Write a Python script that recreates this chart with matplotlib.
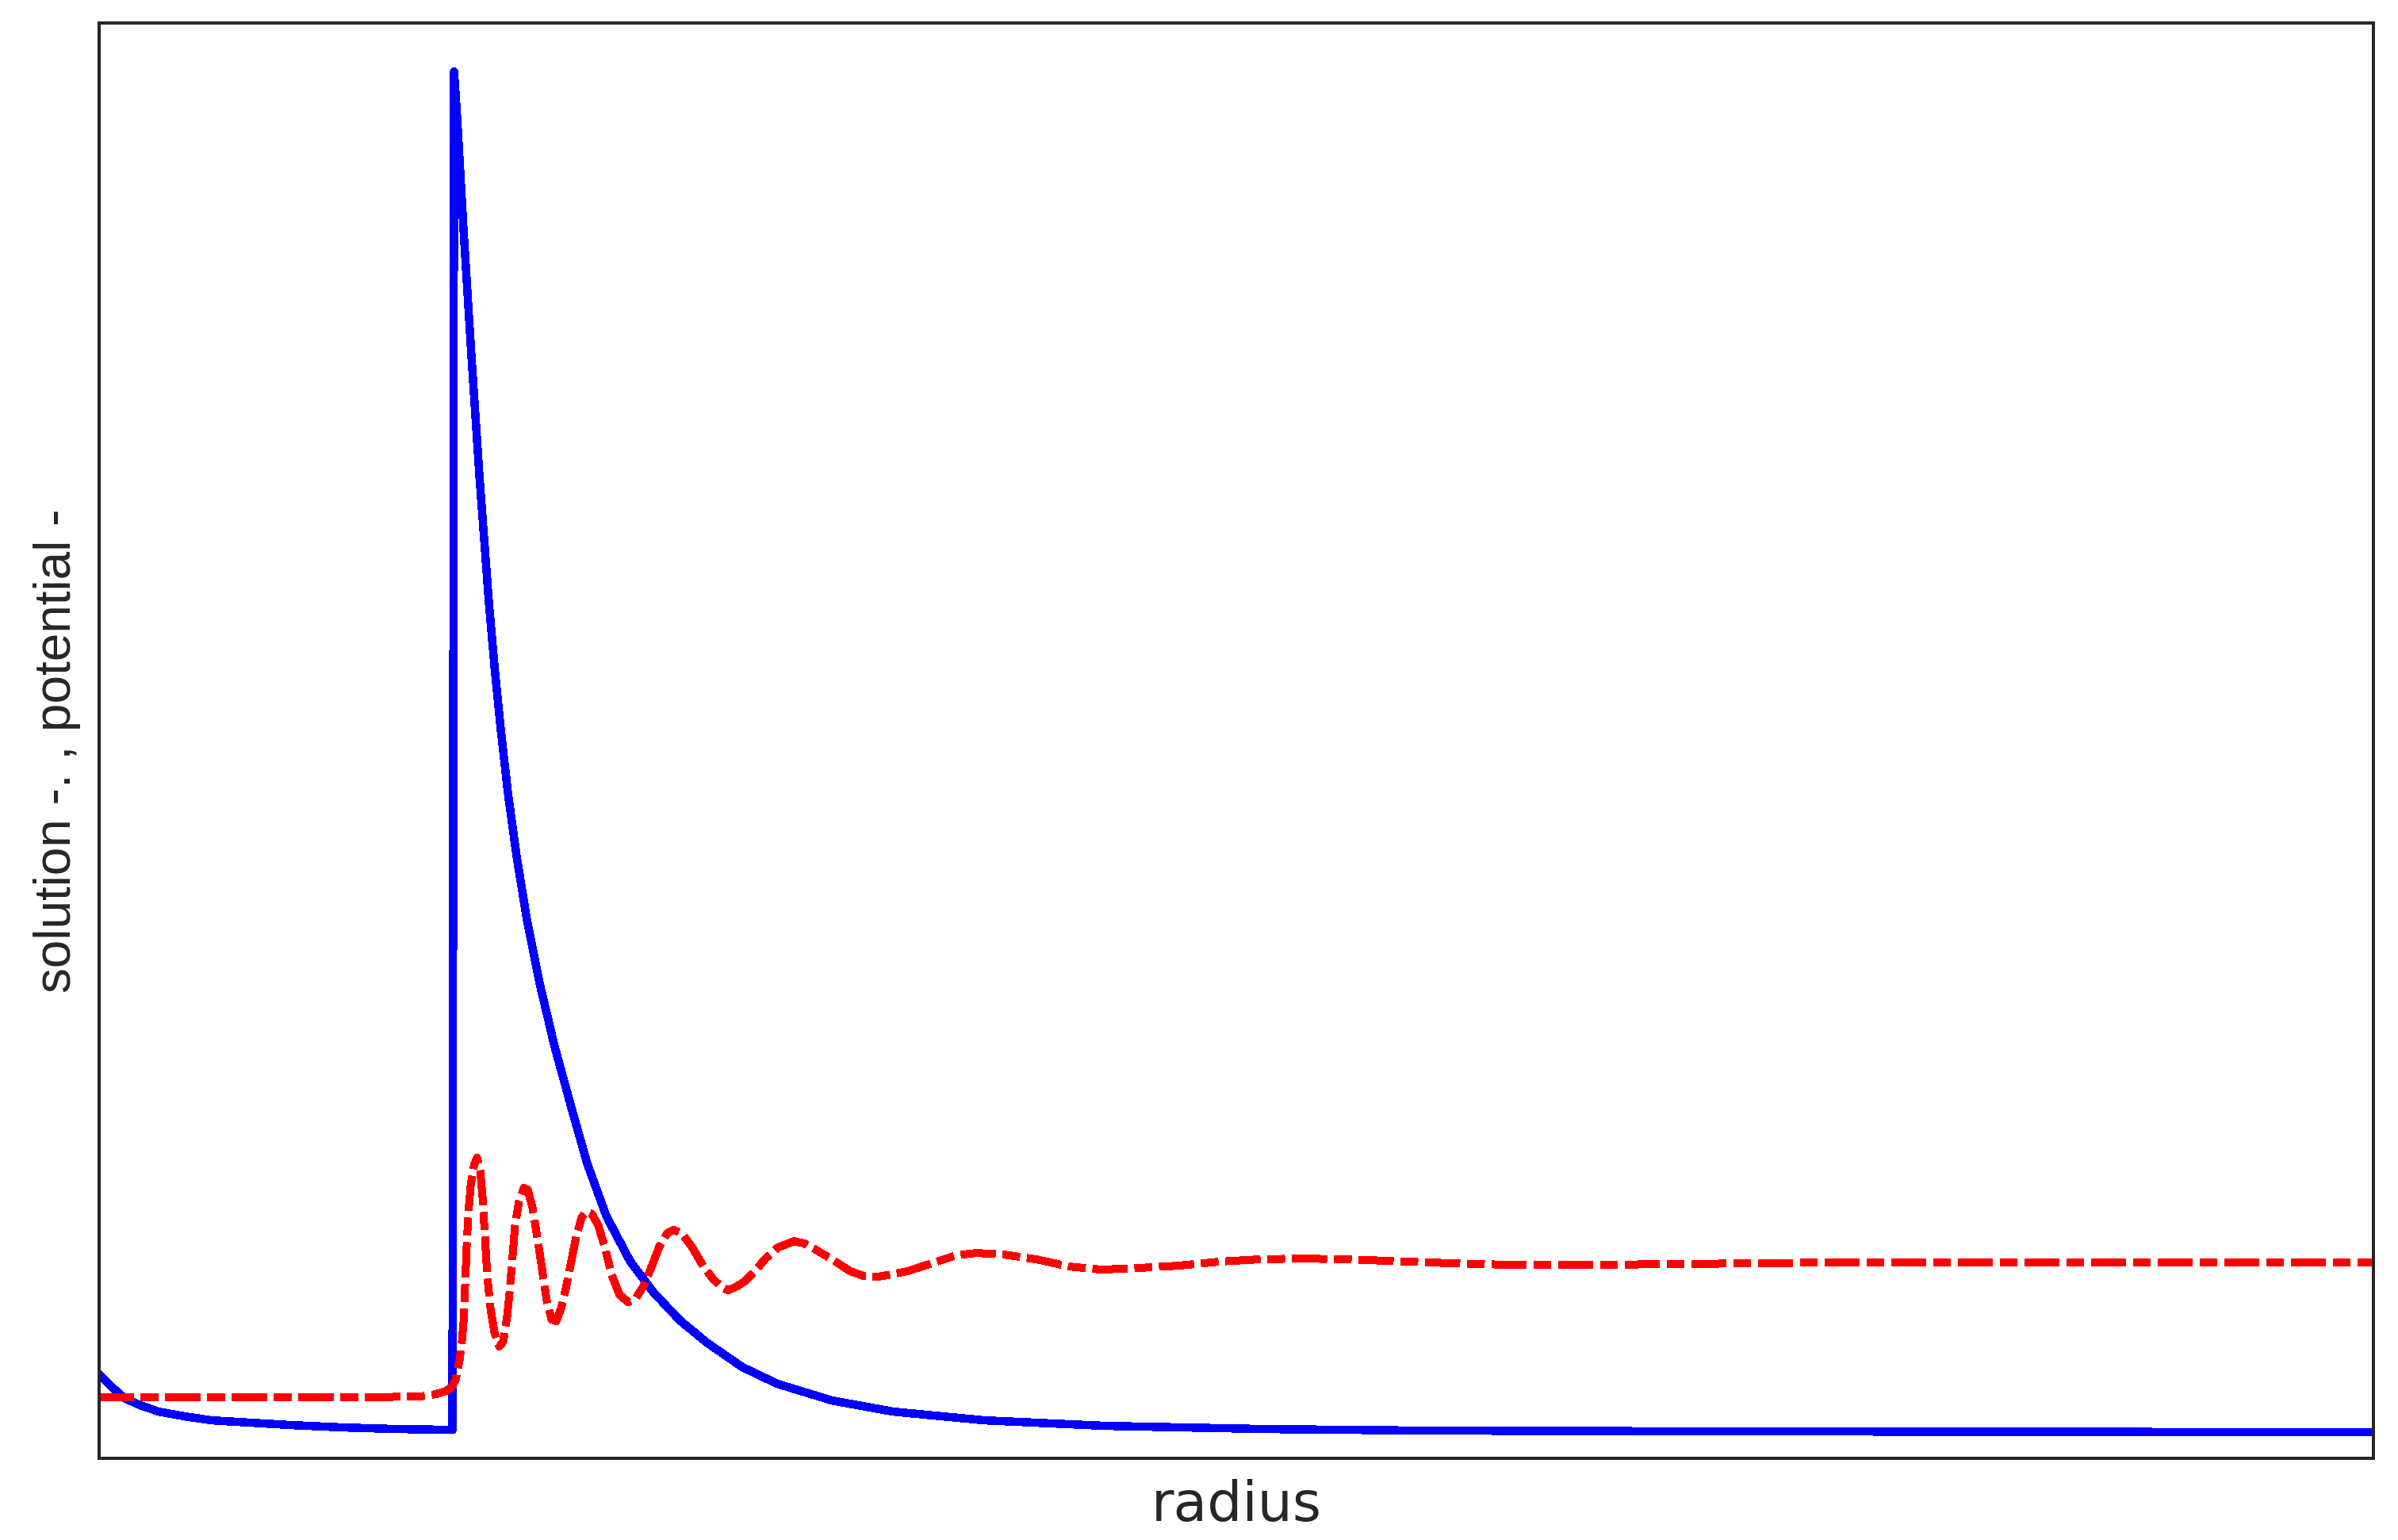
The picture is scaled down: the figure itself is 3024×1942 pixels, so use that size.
import matplotlib
matplotlib.use("Agg")
import matplotlib.pyplot as plt

# potential (solid blue)
r_pot = [0.00, 0.15, 0.32, 0.52, 0.75, 1.08, 1.42, 1.92, 2.42, 3.08, 3.75, 4.46,
         4.48, 4.52, 4.56, 4.60, 4.65, 4.70, 4.75, 4.80, 4.86, 4.92, 4.99, 5.07,
         5.16, 5.27, 5.40, 5.56, 5.75, 5.97, 6.16, 6.40, 6.70, 7.00, 7.33, 7.67,
         8.12, 8.56, 9.25, 10.02, 11.17, 12.70, 14.69, 16.75, 20.75, 28.70]
pot = [0.73, 0.58, 0.43, 0.34, 0.26, 0.20, 0.15, 0.12, 0.09, 0.06, 0.04, 0.03,
       17.16, 16.56, 15.86, 15.16, 14.36, 13.56, 12.81, 12.06, 11.26, 10.46, 9.66, 8.86,
       8.06, 7.26, 6.46, 5.66, 4.86, 4.06, 3.39, 2.73, 2.16, 1.76, 1.41, 1.13,
       0.82, 0.61, 0.40, 0.26, 0.15, 0.08, 0.04, 0.02, 0.01, 0.00]

# solution (red dash-dot)
r_sol = [0.00, 1.75, 3.25, 4.05, 4.25, 4.38, 4.45, 4.50, 4.55, 4.58, 4.60, 4.62,
         4.64, 4.66, 4.69, 4.73, 4.77, 4.81, 4.84, 4.87, 4.90, 4.94, 4.99, 5.05,
         5.10, 5.15, 5.18, 5.21, 5.25, 5.30, 5.36, 5.41, 5.47, 5.53, 5.59, 5.65,
         5.71, 5.77, 5.83, 5.89, 5.95, 6.02, 6.09, 6.15, 6.22, 6.30, 6.38, 6.47,
         6.57, 6.68, 6.78, 6.87, 6.97, 7.07, 7.17, 7.25, 7.35, 7.48, 7.62, 7.75,
         7.87, 7.94, 8.05, 8.16, 8.30, 8.41, 8.57, 8.77, 8.90, 9.03, 9.28, 9.48,
         9.65, 9.82, 10.00, 10.20, 10.51, 10.81, 11.07, 11.42, 11.83, 12.24, 12.65, 13.11,
         13.62, 14.13, 14.64, 15.15, 15.77, 16.79, 17.81, 18.83, 19.85, 20.87, 21.89, 24.75,
         28.70]
sol = [0.44, 0.44, 0.44, 0.45, 0.48, 0.52, 0.57, 0.66, 0.91, 1.16, 1.39, 1.86,
       2.36, 2.76, 3.11, 3.36, 3.46, 3.31, 2.96, 2.46, 1.96, 1.56, 1.26, 1.08,
       1.14, 1.46, 1.76, 2.11, 2.61, 2.91, 3.08, 3.06, 2.83, 2.46, 2.06, 1.66,
       1.42, 1.40, 1.56, 1.81, 2.11, 2.46, 2.71, 2.78, 2.75, 2.61, 2.34, 1.98,
       1.73, 1.64, 1.70, 1.84, 2.08, 2.34, 2.51, 2.55, 2.51, 2.34, 2.10, 1.93,
       1.82, 1.79, 1.84, 1.91, 2.06, 2.19, 2.33, 2.41, 2.38, 2.31, 2.16, 2.03,
       1.97, 1.96, 1.99, 2.03, 2.13, 2.23, 2.26, 2.24, 2.18, 2.09, 2.05, 2.07,
       2.10, 2.15, 2.18, 2.19, 2.18, 2.14, 2.11, 2.11, 2.12, 2.13, 2.14, 2.14,
       2.14]

dark = "#262626"
lw = 3.4

fig = plt.figure(figsize=(15.12, 9.71), dpi=200)
ax = fig.add_axes([0.0413, 0.053, 0.9484, 0.932])

ax.plot(r_pot, pot, color="#0000ff", linewidth=lw, solid_joinstyle="round",
        antialiased=False)
ax.plot(r_sol, sol, color="#ff0000", linewidth=lw,
        linestyle=(0, (4.6, 1.05, 2.3, 1.05)), antialiased=False)

ax.set_xlim(0, 28.70)
ax.set_ylim(-0.33, 17.77)
ax.set_xticks([])
ax.set_yticks([])
for s in ax.spines.values():
    s.set_color(dark)
    s.set_linewidth(1.44)

ax.set_xlabel("radius", fontsize=25, color=dark, family=["DejaVu Sans"])
ax.xaxis.label.set_va("baseline")
ax.xaxis.set_label_coords(0.5, -0.0436)

ax.set_ylabel("solution -. , potential -", fontsize=23, color=dark,
              family=["Liberation Sans Narrow", "Liberation Sans", "DejaVu Sans"],
              fontstretch="condensed")
ax.yaxis.set_label_coords(-0.008, 0.493)

fig.savefig("out.png", dpi=200)
